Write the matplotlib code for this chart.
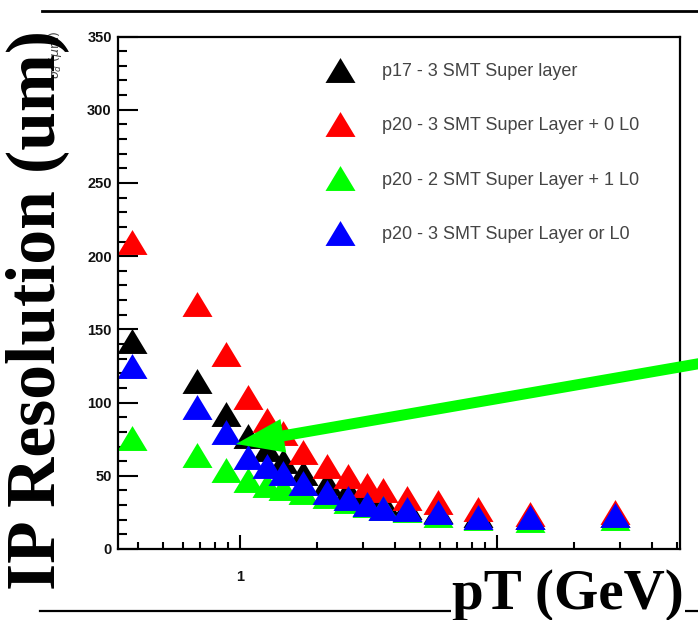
import matplotlib
matplotlib.use("Agg")
import matplotlib.pyplot as plt
import matplotlib.transforms as mtransforms
from matplotlib.path import Path
from matplotlib.lines import Line2D
from matplotlib.patches import FancyArrowPatch, ArrowStyle
from matplotlib.ticker import MultipleLocator, NullFormatter, FixedLocator, FixedFormatter, LogLocator

# pT bin positions (GeV) and IP resolution (um)
pt = [0.38, 0.68, 0.88, 1.07, 1.27, 1.47, 1.76, 2.18, 2.63, 3.12, 3.6, 4.46, 5.9, 8.4, 13.4, 28.8]
p17_3smt = [142, 115, 92, 77, 68, 60, 52, 45, 40, 35, 32, 29, 26, 23, 22, 23]
p20_3smt_0l0 = [210, 167, 133, 104, 88, 79, 66, 57, 50, 44, 40, 35, 32, 27, 24, 25]
p20_2smt_1l0 = [76, 64, 54, 47, 44, 42, 39, 36, 33, 30, 28, 26.5, 23.5, 21, 20, 21]
p20_3smt_or_l0 = [125, 97, 80, 63, 57, 52, 45, 39, 35, 31, 28, 27, 25, 22, 22, 23]

series = [p17_3smt, p20_3smt_0l0, p20_2smt_1l0, p20_3smt_or_l0]
labels = ["p17 - 3 SMT Super layer",
          "p20 - 3 SMT Super Layer + 0 L0",
          "p20 - 2 SMT Super Layer + 1 L0",
          "p20 - 3 SMT Super Layer or L0"]
colors = ["#000000", "#ff0000", "#00ff00", "#0000ff"]

W, H = 698, 620
fig = plt.figure(figsize=(W / 100, H / 100), dpi=100)
fig.patch.set_facecolor("white")
ax = fig.add_axes([118 / W, 1 - 549 / H, (680 - 118) / W, (549 - 36.5) / H])

# ROOT style filled triangle, a bit wider than tall
tri = Path([(-1, -0.83), (1, -0.83), (0, 0.83), (-1, -0.83)], closed=True)

for vals, lab, c in zip(series, labels, colors):
    ax.plot(pt, vals, ls="none", marker=tri, ms=21.6, color=c, mec="none", label=lab)

ax.set_xscale("log")
ax.set_xlim(0.335, 51.5)
ax.set_ylim(0, 350)

ax.xaxis.set_major_locator(FixedLocator([1, 10]))
ax.xaxis.set_major_formatter(FixedFormatter(["1", ""]))
ax.xaxis.set_minor_locator(LogLocator(base=10, subs=range(2, 10)))
ax.xaxis.set_minor_formatter(NullFormatter())
ax.yaxis.set_major_locator(MultipleLocator(50))
ax.yaxis.set_minor_locator(MultipleLocator(10))

ax.tick_params(axis="y", which="major", direction="in", length=14.4, width=1.5, pad=4.5,
               labelsize=10.5, labelcolor="#111111")
ax.tick_params(axis="y", which="minor", direction="in", length=6.5, width=1.5)
ax.tick_params(axis="x", which="major", direction="in", length=10, width=1.5, pad=15,
               labelsize=10.5, labelcolor="#111111")
ax.tick_params(axis="x", which="minor", direction="in", length=5, width=1.5)
for lbl in ax.get_xticklabels() + ax.get_yticklabels():
    lbl.set_fontfamily("Liberation Sans")
    lbl.set_fontweight("bold")
for sp in ax.spines.values():
    sp.set_linewidth(1.6)

leg = ax.legend(loc="upper left", bbox_to_anchor=(320 / W, 1 - 54 / H),
                bbox_transform=fig.transFigure, frameon=False, borderpad=0,
                numpoints=1, handlelength=1.2, handletextpad=1.75, labelspacing=2.07,
                prop=dict(family="Liberation Sans", size=13))
for t in leg.get_texts():
    t.set_color("#444444")

# small ROOT axis title, mostly hidden behind the big overlay label
fig.text(55 / W, 1 - 30 / H, r"$\sigma_{d}$ ($\mu$m)", rotation=90, ha="center", va="top",
         fontsize=9, color="#444444")

# overlay annotations
fig.add_artist(Line2D([42 / W, 1], [1 - 11 / H] * 2, color="black", lw=2))
fig.add_artist(Line2D([40 / W, 1], [9 / H] * 2, color="black", lw=1.6))
fig.text(37 / W, 1 - 310 / H, "IP Resolution (um)", rotation=90, ha="center", va="center",
         fontsize=50, family="Liberation Serif", weight="bold")
fig.text(452 / W, 11 / H, "pT (GeV)", ha="left", va="baseline", fontsize=41,
         family="Liberation Serif", weight="bold",
         bbox=dict(facecolor="white", edgecolor="none", pad=1))

arrow = FancyArrowPatch((720, H - 360), (236, H - 444),
                        arrowstyle=ArrowStyle.Simple(head_length=48, head_width=34, tail_width=11),
                        mutation_scale=0.72, shrinkA=0, shrinkB=0,
                        color="#00ff00", lw=0, transform=mtransforms.IdentityTransform())
fig.add_artist(arrow)

fig.savefig("out.png", dpi=100)
